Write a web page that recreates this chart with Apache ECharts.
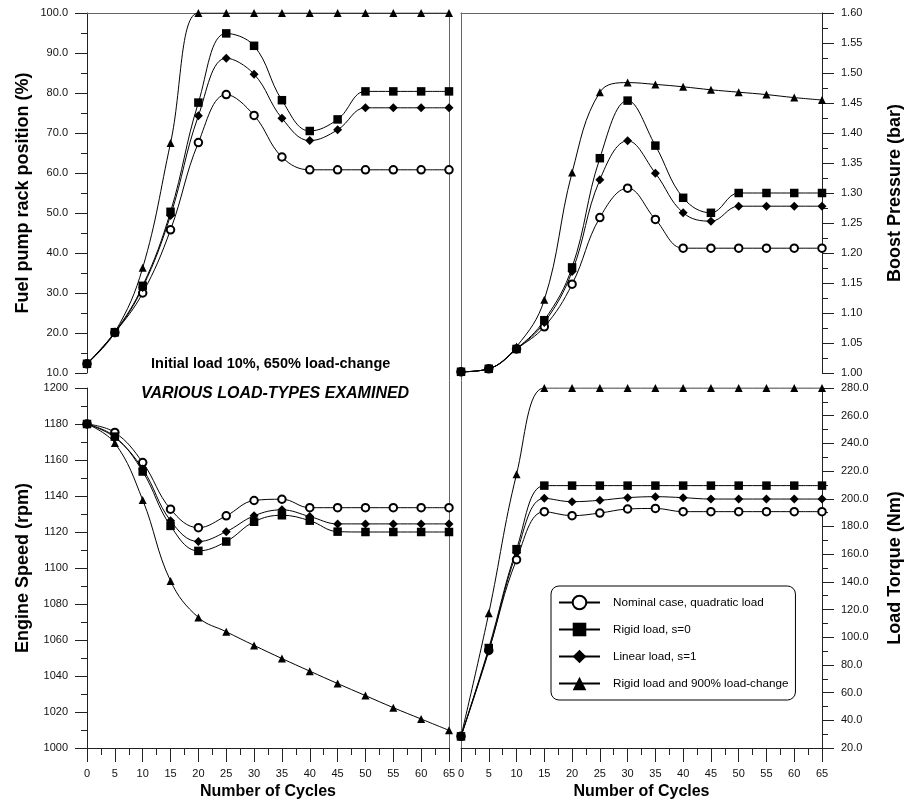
<!DOCTYPE html>
<html>
<head>
<meta charset="utf-8">
<script src="https://cdn.jsdelivr.net/npm/echarts@6/dist/echarts.min.js"></script>
<style>html,body{margin:0;padding:0;background:#fff}#c{width:907px;height:808px}</style>
</head>
<body>
<div id="c"></div>
<script>
// ---- Data ----
var cycles = [0,5,10,15,20,25,30,35,40,45,50,55,60,65];
var seriesNames = ['Nominal case, quadratic load','Rigid load, s=0','Linear load, s=1','Rigid load and 900% load-change'];

// Fuel pump rack position (%)
var rackNominal = [12.3,20.1,30.0,45.8,67.6,79.6,74.4,64.0,60.8,60.8,60.8,60.8,60.8,60.8];
var rackRigid   = [12.3,20.2,31.8,50.3,77.6,94.9,91.8,78.2,70.5,73.4,80.4,80.4,80.4,80.4];
var rackLinear  = [12.3,20.0,31.4,49.4,74.3,88.7,84.7,73.7,68.1,70.8,76.3,76.3,76.3,76.3];
var rack900     = [12.3,20.2,36.3,67.5,100,100,100,100,100,100,100,100,100,100];

// Boost pressure (bar)
var boostNominal = [1.002,1.007,1.040,1.077,1.148,1.259,1.308,1.256,1.208,1.208,1.208,1.208,1.208,1.208];
var boostRigid   = [1.002,1.007,1.040,1.088,1.176,1.358,1.454,1.379,1.292,1.267,1.300,1.300,1.300,1.300];
var boostLinear  = [1.002,1.007,1.040,1.084,1.169,1.322,1.387,1.333,1.267,1.253,1.278,1.278,1.278,1.278];
var boost900     = [1.002,1.007,1.044,1.122,1.334,1.468,1.484,1.481,1.477,1.472,1.468,1.464,1.459,1.455];

// Engine speed (rpm)
var speedNominal = [1180,1175.3,1158.6,1132.7,1122.4,1129.0,1137.5,1138.2,1133.5,1133.5,1133.5,1133.5,1133.5,1133.5];
var speedRigid   = [1180,1173.0,1153.6,1123.4,1109.5,1114.7,1125.7,1129.3,1126.3,1120.2,1120.0,1120.0,1120.0,1120.0];
var speedLinear  = [1180,1172.5,1155.0,1126.3,1114.7,1120.2,1129.0,1132.3,1128.6,1124.5,1124.5,1124.5,1124.5,1124.5];
var speed900     = [1180,1169.4,1137.8,1092.8,1072.5,1064.6,1057.0,1049.7,1042.7,1035.8,1029.1,1022.4,1016.1,1009.8];

// Load torque (Nm)
var torqueNominal = [28.4,90.5,156.0,190.7,187.8,189.7,192.6,193.0,190.7,190.7,190.7,190.7,190.7,190.7];
var torqueRigid   = [28.4,92.2,163.6,209.5,209.5,209.5,209.5,209.5,209.5,209.5,209.5,209.5,209.5,209.5];
var torqueLinear  = [28.4,90.0,161.0,200.3,197.9,198.9,200.8,201.5,200.8,199.8,199.8,199.8,199.8,199.8];
var torque900     = [28.4,117.3,217.7,280,280,280,280,280,280,280,280,280,280,280];

// ---- Chart ----
var FONT = '"Liberation Sans", Arial, Helvetica, sans-serif';
function pairs(v){ return cycles.map(function(x,i){ return [x, v[i]]; }); }

var symbols = {
  0: {symbol:'emptyCircle', size:7.5, itemStyle:{color:'#000', borderColor:'#000', borderWidth:1}},
  1: {symbol:'rect', size:8.5, itemStyle:{color:'#000', borderWidth:0}},
  2: {symbol:'diamond', size:9, itemStyle:{color:'#000', borderWidth:0}},
  3: {symbol:'triangle', size:8, itemStyle:{color:'#000', borderWidth:0}}
};
var panels = [
  [rackNominal, rackRigid, rackLinear, rack900],
  [boostNominal, boostRigid, boostLinear, boost900],
  [speedNominal, speedRigid, speedLinear, speed900],
  [torqueNominal, torqueRigid, torqueLinear, torque900]
];
var drawOrder = [0,2,3,1];
var series = [];
panels.forEach(function(p, pi){
  drawOrder.forEach(function(k){
    series.push({
      type:'line', name: seriesNames[k], xAxisIndex: pi, yAxisIndex: pi,
      data: pairs(p[k]), smooth: 0.4,
      symbol: symbols[k].symbol, symbolSize: symbols[k].size,
      itemStyle: symbols[k].itemStyle,
      lineStyle: {color:'#000', width:1},
      animation:false
    });
  });
});

function borderX(grid, pos){
  return {gridIndex:grid, type:'value', min:0, max:65, position:pos,
    axisLine:{show:true, lineStyle:{color:'#666', width:1}}, axisTick:{show:false},
    axisLabel:{show:false}, splitLine:{show:false}};
}
function mainX(grid){
  return {gridIndex:grid, type:'value', min:0, max:65, interval:5, position:'bottom',
    name:'Number of Cycles', nameLocation:'middle', nameGap:36,
    nameTextStyle:{fontFamily:FONT, fontSize:16, fontWeight:'bold', color:'#000'},
    axisLine:{show:true, onZero:false, lineStyle:{color:'#222', width:1}},
    axisTick:{show:true, length:14, lineStyle:{color:'#222'}},
    minorTick:{show:true, splitNumber:2, length:7, lineStyle:{color:'#222'}},
    axisLabel:{fontFamily:FONT, fontSize:11, color:'#111', margin:20},
    splitLine:{show:false}, minorSplitLine:{show:false}};
}
function mainY(grid, pos, min, max, interval, dec, name, gap){
  return {gridIndex:grid, type:'value', min:min, max:max, interval:interval, position:pos,
    name:name, nameLocation:'middle', nameGap:gap,
    nameTextStyle:{fontFamily:FONT, fontSize:18, fontWeight:'bold', color:'#000'},
    axisLine:{show:true, onZero:false, lineStyle:{color:'#222', width:1}},
    axisTick:{show:true, length:12, lineStyle:{color:'#222'}},
    minorTick:{show:true, splitNumber:2, length:6, lineStyle:{color:'#222'}},
    axisLabel:{fontFamily:FONT, fontSize:11, color:'#111', margin:19,
      formatter:function(v){ return dec === 0 ? String(Math.round(v)) : v.toFixed(dec); }},
    splitLine:{show:false}, minorSplitLine:{show:false}};
}
function borderY(grid, pos){
  return {gridIndex:grid, type:'value', min:0, max:1, position:pos,
    axisLine:{show:true, onZero:false, lineStyle:{color:'#666', width:1}}, axisTick:{show:false},
    axisLabel:{show:false}, splitLine:{show:false}};
}

var option = {
  backgroundColor:'#fff',
  animation:false,
  grid:[
    {left:87, top:13, width:362, height:360},
    {left:461, top:13, width:361, height:360},
    {left:87, top:388, width:362, height:360},
    {left:461, top:388, width:361, height:360},
    {left:87, top:13, width:362, height:735},
    {left:461, top:13, width:361, height:735}
  ],
  xAxis:[
    borderX(0,'top'), borderX(1,'top'), mainX(2), mainX(3),
    {gridIndex:4, type:'value', min:0, max:1, show:false},
    {gridIndex:5, type:'value', min:0, max:1, show:false}
  ],
  yAxis:[
    mainY(0,'left',10,100,10,1,'Fuel pump rack position (%)',55),
    mainY(1,'right',1.0,1.6,0.05,2,'Boost Pressure (bar)',64),
    mainY(2,'left',1000,1200,20,0,'Engine Speed (rpm)',55),
    mainY(3,'right',20,280,20,1,'Load Torque (Nm)',64),
    borderY(4,'right'), borderY(5,'left')
  ],
  legend:{
    data: seriesNames, orient:'vertical', left:551, top:586,
    itemWidth:41, itemHeight:17, itemGap:10,
    padding:[8,7,8,7], borderColor:'#000', borderWidth:1, borderRadius:8,
    backgroundColor:'#fff',
    itemStyle:{borderWidth:1},
    textStyle:{fontFamily:FONT, fontSize:11.7, color:'#000', padding:[0,0,0,8], lineHeight:17, height:17},
    selectedMode:false
  },
  graphic:[
    {type:'text', left:151, top:356, style:{text:'Initial load 10%, 650% load-change', fontFamily:FONT, fontSize:14.5, fontWeight:'bold', fill:'#000'}},
    {type:'text', left:141, top:386, style:{text:'VARIOUS LOAD-TYPES EXAMINED', fontFamily:FONT, fontSize:16, fontWeight:'bold', fontStyle:'italic', fill:'#000'}}
  ],
  series: series
};
var chart = echarts.init(document.getElementById('c'), null, {renderer:'canvas'});
chart.setOption(option);
</script>
</body>
</html>
